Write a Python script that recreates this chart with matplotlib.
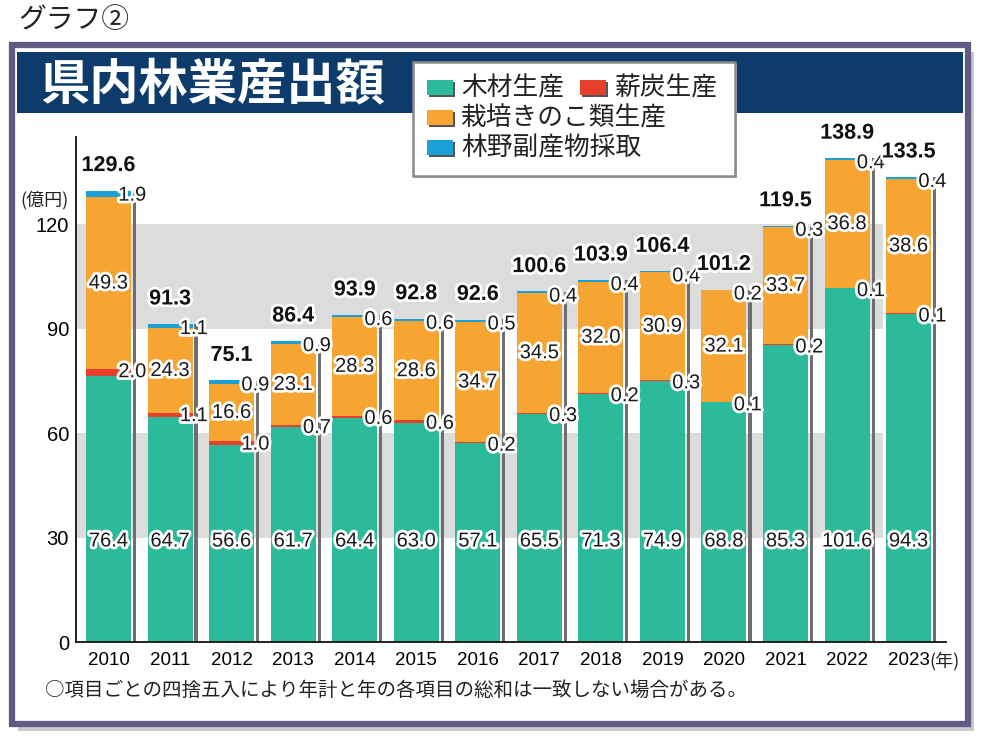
import matplotlib.pyplot as plt
import matplotlib.patheffects as pe
from matplotlib.patches import Rectangle

plt.rcParams['font.family'] = ['Noto Sans CJK JP', 'DejaVu Sans']
NUM_FONT = ['Liberation Sans Narrow', 'Liberation Sans', 'DejaVu Sans']

# データ（億円）
years = ['2010', '2011', '2012', '2013', '2014', '2015', '2016',
         '2017', '2018', '2019', '2020', '2021', '2022', '2023']
wood = [76.4, 64.7, 56.6, 61.7, 64.4, 63.0, 57.1, 65.5, 71.3, 74.9, 68.8, 85.3, 101.6, 94.3]
charcoal = [2.0, 1.1, 1.0, 0.7, 0.6, 0.6, 0.2, 0.3, 0.2, 0.3, 0.1, 0.2, 0.1, 0.1]
mushroom = [49.3, 24.3, 16.6, 23.1, 28.3, 28.6, 34.7, 34.5, 32.0, 30.9, 32.1, 33.7, 36.8, 38.6]
other = [1.9, 1.1, 0.9, 0.9, 0.6, 0.6, 0.5, 0.4, 0.4, 0.4, 0.2, 0.3, 0.4, 0.4]
totals = [129.6, 91.3, 75.1, 86.4, 93.9, 92.8, 92.6, 100.6, 103.9, 106.4, 101.2, 119.5, 138.9, 133.5]

series_names = ['木材生産', '薪炭生産', '栽培きのこ類生産', '林野副産物採取']
c_wood = '#2bbb9b'
c_char = '#e63f2c'
c_mush = '#f6a533'
c_other = '#1aa0d6'

W, H = 981, 743
fig = plt.figure(figsize=(W / 100, H / 100), dpi=100)


def fx(px):
    return px / W


def fy(py):
    return 1 - py / H


def box(x0, y0, x1, y1, **kw):
    r = Rectangle((fx(x0), fy(y1)), (x1 - x0) / W, (y1 - y0) / H,
                  transform=fig.transFigure, **kw)
    fig.patches.append(r)
    return r


# 外枠と影
box(18, 52, 974, 731, facecolor='#c8c8cc', edgecolor='none', zorder=0)
box(12, 45, 968, 724, facecolor='white', edgecolor='#5f5b83', linewidth=4.5, zorder=1)
box(17, 52, 963, 113, facecolor='#0c3b6c', edgecolor='none', zorder=2)

fig.text(fx(18), fy(20), 'グラフ②', fontsize=20, va='center', ha='left', color='#222222')
fig.text(fx(40), fy(85), '県内林業産出額', fontsize=35.5, fontweight='bold',
         color='white', va='center', ha='left', zorder=3)

# 凡例
box(415, 64, 737, 178, facecolor='#bbbbbb', edgecolor='none', zorder=3)
box(413, 62, 735, 176, facecolor='white', edgecolor='#8a8a8a', linewidth=1.8, zorder=4)
legend_rows = [(427, 87.5, c_wood, series_names[0]),
               (580, 87.5, c_char, series_names[1]),
               (427, 117.5, c_mush, series_names[2]),
               (427, 147.5, c_other, series_names[3])]
for xs, yc, col, name in legend_rows:
    box(xs + 2, yc - 5.5, xs + 28, yc + 9.5, facecolor='#555555', edgecolor='none', zorder=5)
    box(xs, yc - 7.5, xs + 26, yc + 7.5, facecolor=col, edgecolor='none', zorder=6)
    fig.text(fx(xs + 34), fy(yc + 1), name, fontsize=18.5, va='center', ha='left',
             color='#222222', zorder=7)

# グラフ本体
ax = fig.add_axes([fx(76), fy(642), (946 - 76) / W, (642 - 137) / H])
ax.set_zorder(5)
ax.patch.set_visible(False)
ax.set_xlim(-0.528, 13.607)
ax.set_ylim(0, 145)

band_x = (883 - 76) / 870
ax.axhspan(30, 60, xmin=0, xmax=band_x, color='#dcdcdd', zorder=0, lw=0)
ax.axhspan(90, 120, xmin=0, xmax=band_x, color='#dcdcdd', zorder=0, lw=0)

x = list(range(len(years)))
bw = 0.731
bottom2 = [a + b for a, b in zip(wood, charcoal)]
bottom3 = [a + b for a, b in zip(bottom2, mushroom)]
ax.bar(x, wood, width=bw, color=c_wood, zorder=2)
ax.bar(x, charcoal, width=bw, bottom=wood, color=c_char, zorder=2)
ax.bar(x, mushroom, width=bw, bottom=bottom2, color=c_mush, zorder=2)
ax.bar(x, other, width=bw, bottom=bottom3, color=c_other, zorder=2)
# 右側の影線
ax.bar([i + 0.422 for i in x], totals, width=0.05, color='#6e6e6e', zorder=2)

halo = [pe.withStroke(linewidth=4, foreground='white')]
for i in x:
    lab_kw = dict(fontsize=14.5, family=NUM_FONT, color='#1a1a1a', va='center',
                  ha='center', path_effects=halo, zorder=4)
    ax.text(i, 29, f'{wood[i]:.1f}', **lab_kw)
    ax.text(i, bottom2[i] + mushroom[i] / 2, f'{mushroom[i]:.1f}', **lab_kw)
    ax.text(i + bw / 2 + 0.02, bottom2[i] - 0.8, f'{charcoal[i]:.1f}', **lab_kw)
    ax.text(i + bw / 2 + 0.02, totals[i] - 1.3, f'{other[i]:.1f}', **lab_kw)
    ax.text(i, totals[i] + 7.2, f'{totals[i]:.1f}', fontsize=15.5, family=NUM_FONT,
            fontweight='bold', color='#111111', ha='center', va='center',
            path_effects=halo, zorder=4)

for s in ['top', 'right']:
    ax.spines[s].set_visible(False)
for s in ['left', 'bottom']:
    ax.spines[s].set_linewidth(1.3)
    ax.spines[s].set_color('#111111')
    ax.spines[s].set_zorder(3)

ax.set_yticks([0, 30, 60, 90, 120])
ax.set_yticklabels(['0', '30', '60', '90', '120'], family=NUM_FONT, fontsize=14.5)
ax.set_xticks(x)
ax.set_xticklabels(years, family=NUM_FONT, fontsize=13.5)
ax.tick_params(axis='y', length=0, pad=5)
ax.tick_params(axis='x', length=0, pad=7)

fig.text(fx(45), fy(200), '(億円)', fontsize=13, ha='center', va='center', color='#222222')
fig.text(fx(929), fy(661), '(年)', fontsize=13, ha='left', va='center', color='#222222')
fig.text(fx(45), fy(690), '○項目ごとの四捨五入により年計と年の各項目の総和は一致しない場合がある。',
         fontsize=14, ha='left', va='center', color='#222222')

fig.savefig('out.png', dpi=100)
